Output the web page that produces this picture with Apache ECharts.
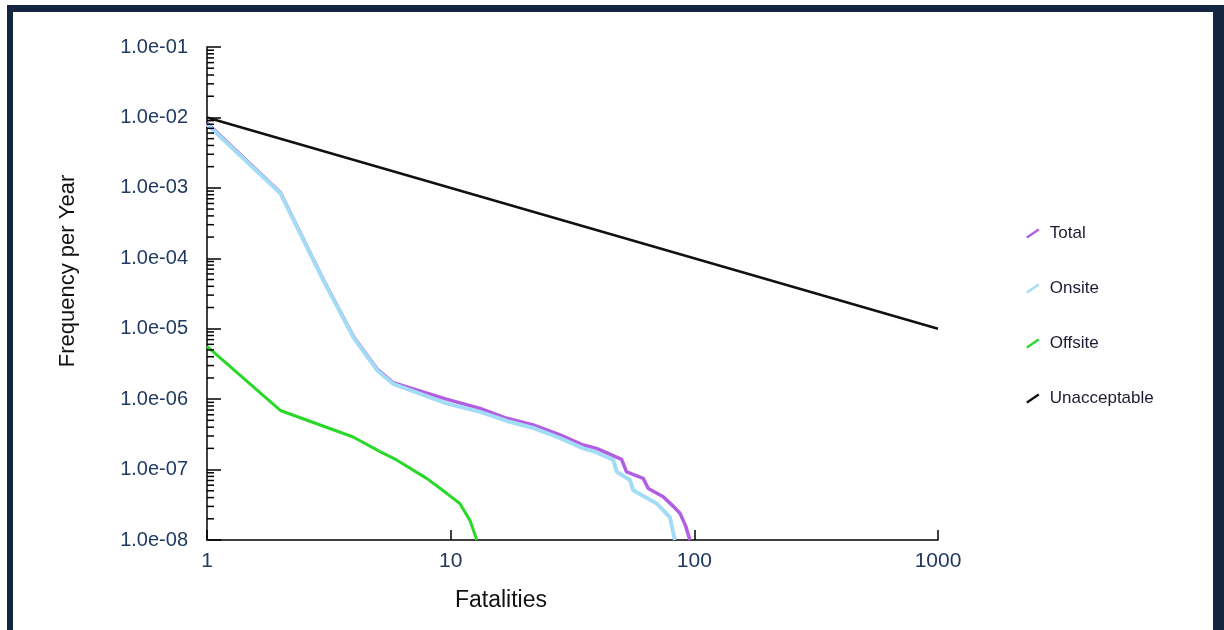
<!DOCTYPE html>
<html><head><meta charset="utf-8">
<script src="https://cdn.jsdelivr.net/npm/echarts@6/dist/echarts.min.js"></script>
<style>
html,body{margin:0;padding:0;background:#fff;overflow:hidden;}
#frame{position:absolute;left:7px;top:5px;width:1217px;height:660px;border-style:solid;border-color:#13253f;border-width:7px 11px 0 6px;box-sizing:border-box;}
#chart{position:absolute;left:0;top:0;width:1224px;height:630px;}
</style></head>
<body><div id="frame"></div><div id="chart"></div>
<script>
const seriesNames = ['Total', 'Onsite', 'Offsite', 'Unacceptable'];
const totalX = [1, 2, 3, 4, 5, 5.8, 9.6, 13.2, 17, 21.8, 28.1, 35, 39.7, 50.3, 52.7, 61.7, 64.7, 74.5, 82, 87.3, 92, 95.9];
const totalY = [8.3e-3, 8.6e-4, 5.0e-5, 7.6e-6, 2.65e-6, 1.72e-6, 1.0e-6, 7.4e-7, 5.35e-7, 4.3e-7, 3.1e-7, 2.23e-7, 2.0e-7, 1.4e-7, 9.3e-8, 7.5e-8, 5.4e-8, 4.1e-8, 3.0e-8, 2.4e-8, 1.6e-8, 1.0e-8];
const onsiteX = [1, 2, 3, 4, 5, 5.8, 9.6, 13.2, 17, 21.8, 28.1, 35, 39.7, 46.5, 48, 54.4, 56.1, 70, 79.4, 83.2];
const onsiteY = [8.0e-3, 8.4e-4, 4.9e-5, 7.4e-6, 2.55e-6, 1.65e-6, 8.7e-7, 6.6e-7, 4.9e-7, 3.9e-7, 2.8e-7, 2.0e-7, 1.75e-7, 1.37e-7, 9.3e-8, 7.1e-8, 5.1e-8, 3.3e-8, 2.1e-8, 1.0e-8];
const offsiteX = [1, 2, 3.98, 5.13, 6.0, 7.97, 9.63, 10.9, 12.0, 12.8];
const offsiteY = [5.6e-6, 6.9e-7, 2.9e-7, 1.8e-7, 1.37e-7, 7.5e-8, 4.6e-8, 3.3e-8, 1.9e-8, 1.0e-8];
const unaccX = [1, 1000];
const unaccY = [1e-2, 1e-5];
const xTickLabels = ['1', '10', '100', '1000'];
const yTickLabels = ['1.0e-08', '1.0e-07', '1.0e-06', '1.0e-05', '1.0e-04', '1.0e-03', '1.0e-02', '1.0e-01'];
const colors = ['#b25ee2', '#a2ddf5', '#2ad82a', '#111111'];

const zip = (xs, ys) => xs.map((x, i) => [x, ys[i]]);
const minorTicks = [];
for (let e = -8; e < -1; e++) for (let m = 2; m <= 9; m++) minorTicks.push([1, m * Math.pow(10, e)]);

const FONT = '"Liberation Sans", Arial, sans-serif';
const chart = echarts.init(document.getElementById('chart'), null, {renderer: 'canvas'});
const lineSeries = (i, xs, ys, w, z) => ({
  name: seriesNames[i], type: 'line', data: zip(xs, ys), symbol: 'none', showSymbol: false,
  lineStyle: {width: w, color: colors[i]}, itemStyle: {color: colors[i]}, z: z, silent: true
});
chart.setOption({
  animation: false,
  grid: {left: 207, right: 286, top: 47, bottom: 90, containLabel: false},
  xAxis: {
    type: 'log', logBase: 10, min: 1, max: 1000, splitNumber: 3,
    axisLine: {lineStyle: {color: '#000', width: 1.5}},
    axisTick: {inside: true, length: 10, lineStyle: {color: '#000', width: 1.5}},
    splitLine: {show: false},
    axisLabel: {fontFamily: FONT, fontSize: 21, color: '#203a62', margin: 11,
      formatter: v => xTickLabels[Math.round(Math.log10(v))]}
  },
  yAxis: {
    type: 'log', logBase: 10, min: 1e-8, max: 1e-1, splitNumber: 7,
    axisLine: {lineStyle: {color: '#000', width: 1.5}},
    axisTick: {inside: true, length: 14, lineStyle: {color: '#000', width: 1.5}},
    splitLine: {show: false},
    axisLabel: {fontFamily: FONT, fontSize: 20, color: '#203a62', margin: 19,
      formatter: v => yTickLabels[Math.round(Math.log10(v)) + 8]}
  },
  legend: {
    orient: 'vertical', left: 1021, top: 220, data: seriesNames,
    icon: 'path://M0,8.2 L12,0 L13.6,1.8 L1.6,10 Z', itemWidth: 14, itemHeight: 10, itemGap: 38,
    itemStyle: {borderWidth: 0},
    textStyle: {fontFamily: FONT, fontSize: 17, color: '#1b1b33', padding: [0, 0, 0, 5]}
  },
  graphic: [
    {type: 'text', x: 501, y: 601, style: {text: 'Fatalities', font: '23px ' + FONT, fill: '#111', align: 'center', verticalAlign: 'middle', textAlign: 'center', textVerticalAlign: 'middle'}},
    {type: 'text', x: 68, y: 271, rotation: Math.PI / 2, style: {text: 'Frequency per Year', font: '22px ' + FONT, fill: '#111', align: 'center', verticalAlign: 'middle', textAlign: 'center', textVerticalAlign: 'middle'}}
  ],
  series: [
    lineSeries(3, unaccX, unaccY, 2.5, 2),
    lineSeries(2, offsiteX, offsiteY, 3, 3),
    lineSeries(0, totalX, totalY, 3.5, 4),
    lineSeries(1, onsiteX, onsiteY, 4, 5),
    {
      type: 'custom', name: 'minorTicks', silent: true, data: minorTicks, clip: false, z: 6,
      renderItem: (params, api) => {
        const p = api.coord([api.value(0), api.value(1)]);
        return {type: 'line', shape: {x1: p[0], y1: p[1], x2: p[0] + 7, y2: p[1]}, style: {stroke: '#000', lineWidth: 1.5}};
      }
    }
  ]
});
</script>
</body></html>
